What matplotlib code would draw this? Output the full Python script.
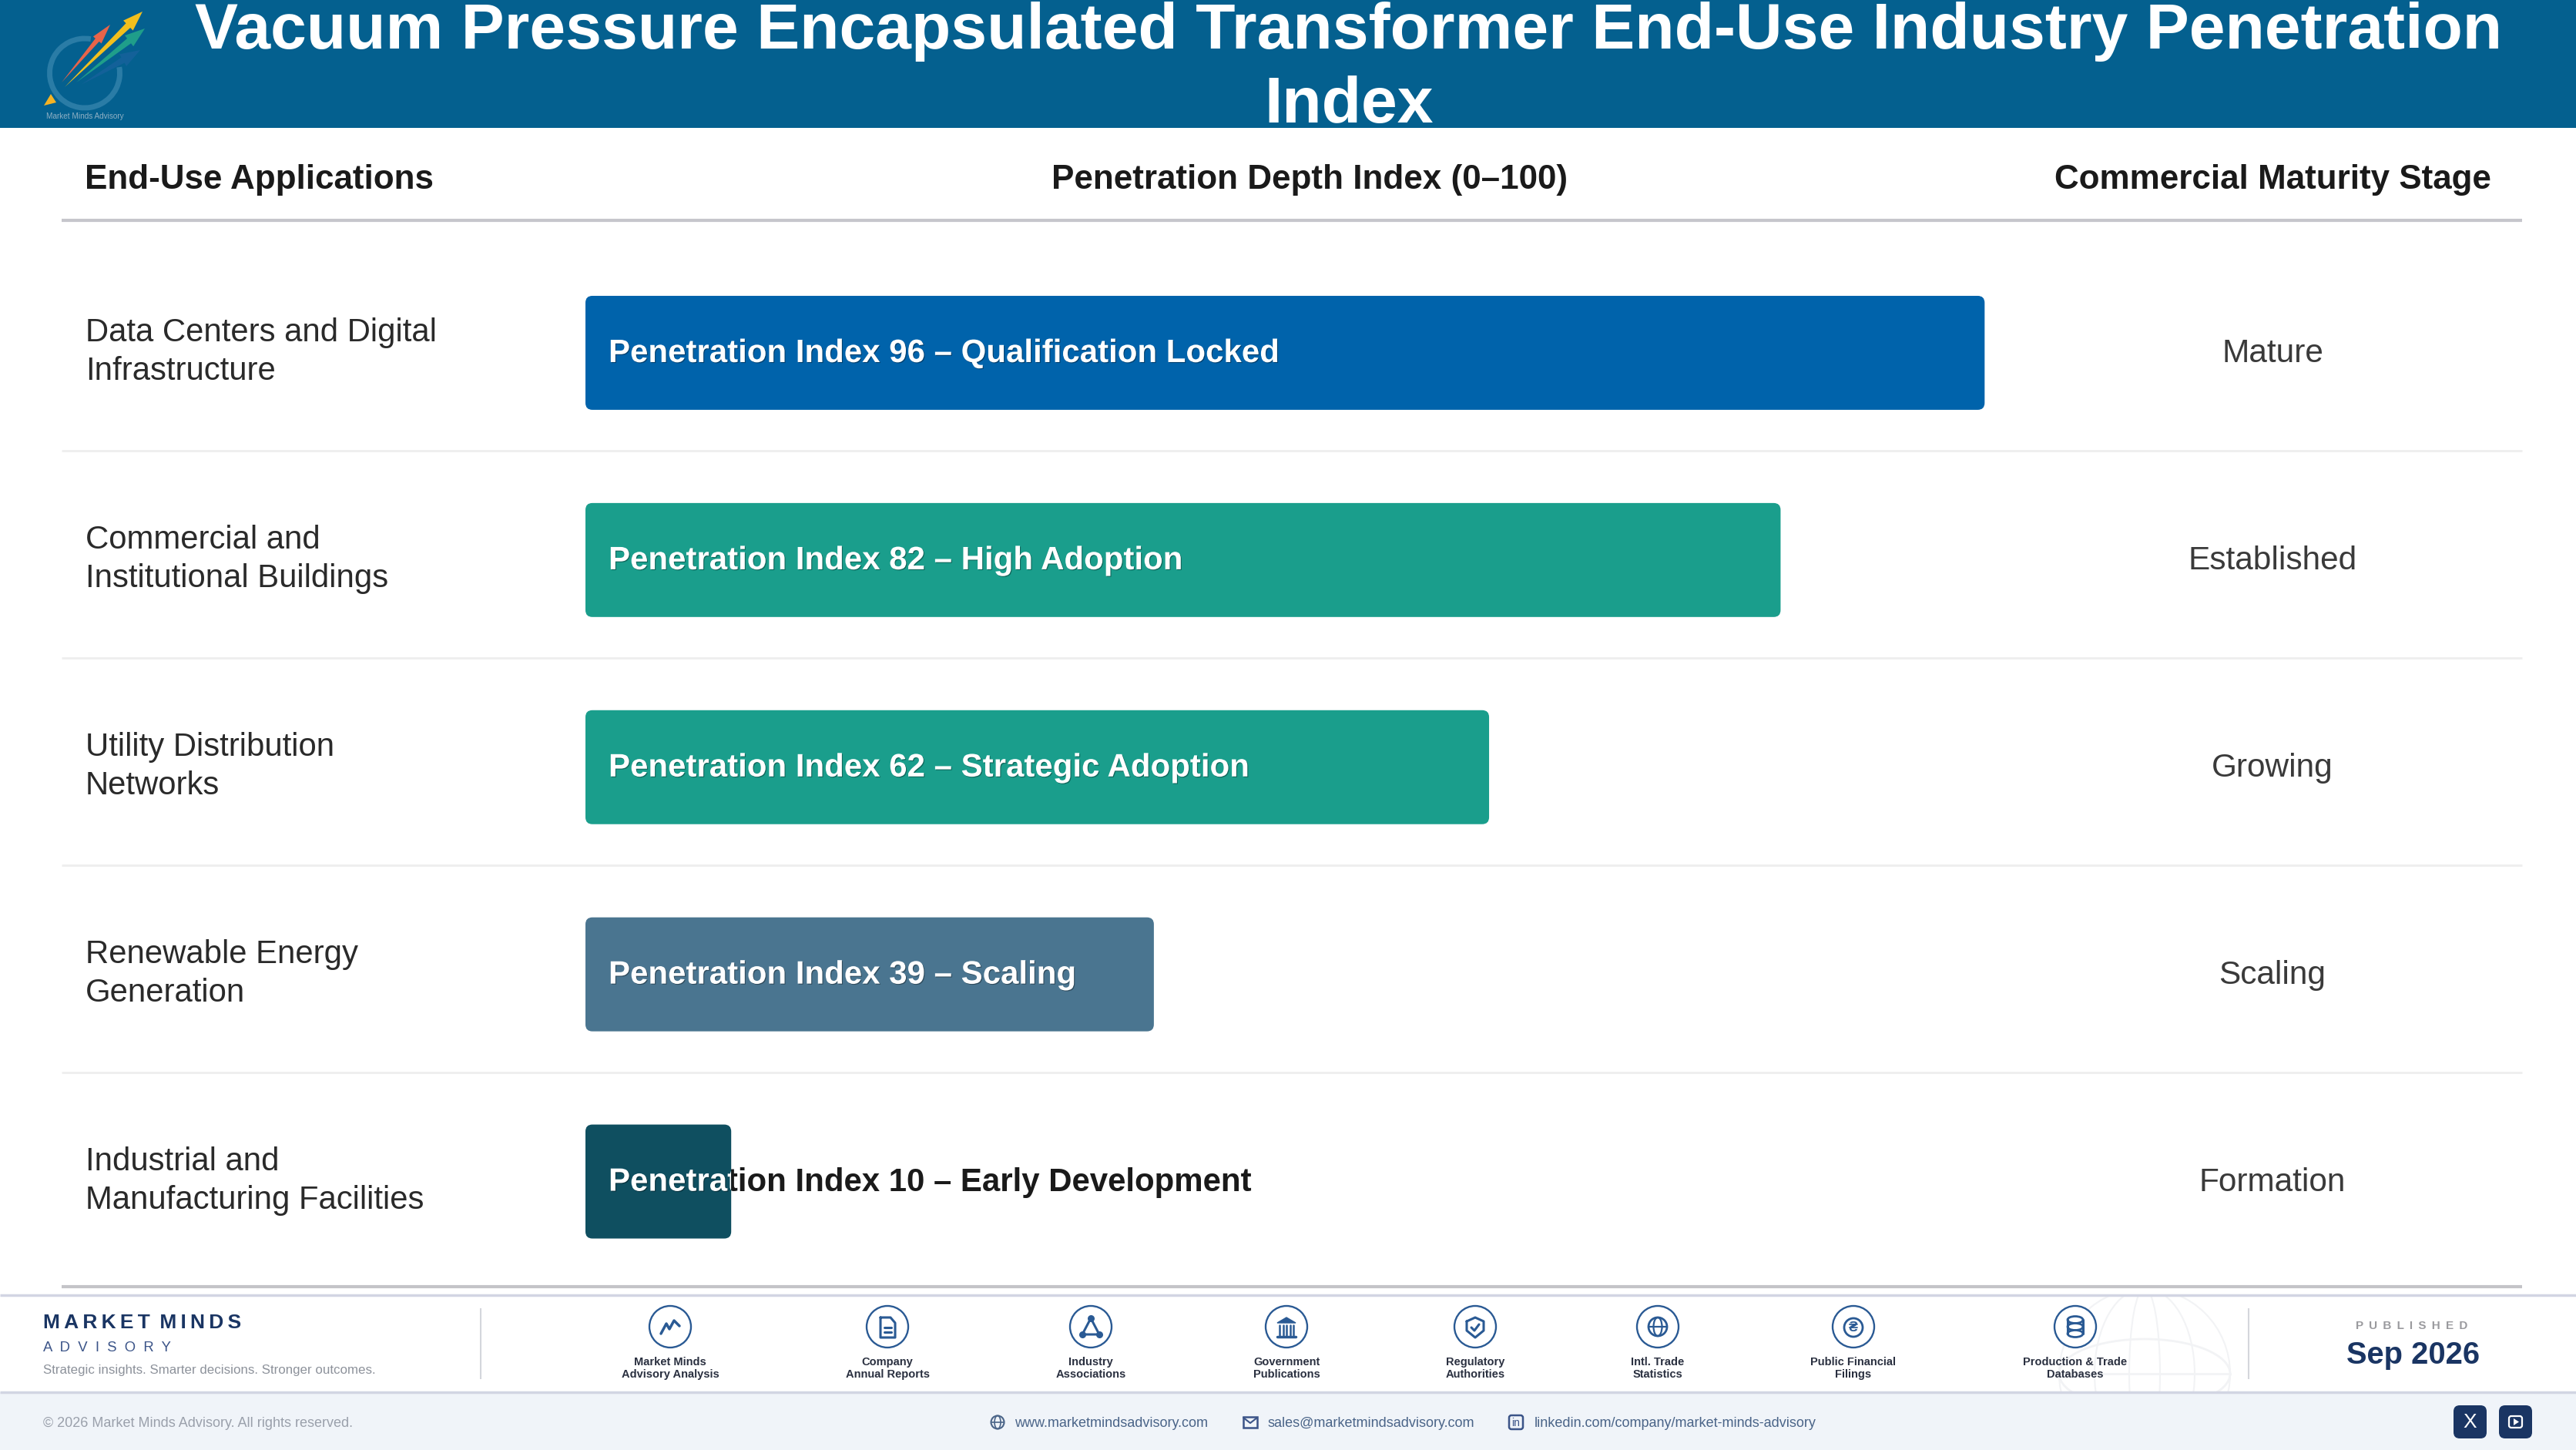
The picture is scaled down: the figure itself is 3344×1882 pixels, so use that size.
import numpy as np
import matplotlib
matplotlib.use("Agg")
import matplotlib.pyplot as plt
import matplotlib.patheffects as pe
from matplotlib.patches import Circle, Ellipse, Arc, Polygon, FancyBboxPatch, Rectangle

plt.rcParams['font.family'] = ['Liberation Sans', 'DejaVu Sans']

title_lines = ["Vacuum Pressure Encapsulated Transformer End-Use Industry Penetration", "Index"]
col_heads = ["End-Use Applications", "Penetration Depth Index (0\u2013100)", "Commercial Maturity Stage"]

applications = ["Data Centers and Digital\nInfrastructure",
                "Commercial and\nInstitutional Buildings",
                "Utility Distribution\nNetworks",
                "Renewable Energy\nGeneration",
                "Industrial and\nManufacturing Facilities"]
index_values = [96, 82, 62, 39, 10]
bar_notes = ["Qualification Locked", "High Adoption", "Strategic Adoption", "Scaling", "Early Development"]
stages = ["Mature", "Established", "Growing", "Scaling", "Formation"]
bar_colors = ["#0063ab", "#1a9e8c", "#1a9e8c", "#4a7590", "#0f4f60"]

source_labels = ["Market Minds\nAdvisory Analysis", "Company\nAnnual Reports", "Industry\nAssociations",
                 "Government\nPublications", "Regulatory\nAuthorities", "Intl. Trade\nStatistics",
                 "Public Financial\nFilings", "Production & Trade\nDatabases"]
source_x = [870, 1152, 1416, 1670, 1915, 2152, 2406, 2694]

NAVY = "#1a3563"
ICON = "#2a5a94"

fig = plt.figure(figsize=(33.44, 18.82), dpi=100)
bg = fig.add_axes([0, 0, 1, 1])
bg.set_xlim(0, 3344)
bg.set_ylim(1882, 0)
bg.axis('off')


def hline(y, x0, x1, color, lw):
    bg.plot([x0, x1], [y, y], color=color, lw=lw, solid_capstyle='butt', zorder=1)


def vline(x, y0, y1, color, lw):
    bg.plot([x, x], [y0, y1], color=color, lw=lw, solid_capstyle='butt', zorder=1)


def arrow(tail, tip, color, w, alpha=1.0):
    t = np.array(tail, float)
    p = np.array(tip, float)
    d = (p - t) / np.hypot(*(p - t))
    n = np.array([-d[1], d[0]])
    sh = p - d * 26
    pts = [t, sh + n * w * 0.45, sh + n * w, p, sh - n * w, sh - n * w * 0.45]
    bg.add_patch(Polygon(pts, closed=True, fc=color, ec='none', alpha=alpha, zorder=3))


# header band and logo
bg.add_patch(Rectangle((0, 0), 3344, 166, fc="#04608f", ec='none', zorder=0))
bg.add_patch(Arc((110, 95), 91, 90, theta1=-10, theta2=280, ec="#2a7ca6", lw=5, zorder=2))
arrow((105, 110), (182, 65), "#17629c", 9, 0.8)
arrow((99, 107), (188, 37), "#1f9e8a", 9)
arrow((80, 107), (143, 32), "#e8644a", 7)
arrow((84, 113), (185, 15), "#f2bf1d", 9)
bg.add_patch(Polygon([(57, 137), (73, 133), (66, 122)], closed=True, fc="#f5b324", ec='none', zorder=3))
bg.text(110, 151, "Market Minds Advisory", fontsize=7.2, color="#8fb0c4", ha='center', va='center', zorder=3)

bg.text(1751, 63, title_lines[0], fontsize=60.5, fontweight='bold', color='white', ha='center', va='baseline', zorder=4)
bg.text(1751, 159, title_lines[1], fontsize=60.5, fontweight='bold', color='white', ha='center', va='baseline', zorder=4)

# table header
bg.text(110, 233, col_heads[0], fontsize=31.7, fontweight='bold', color="#1a1a1a", va='center')
bg.text(1700, 233, col_heads[1], fontsize=31.7, fontweight='bold', color="#1a1a1a", ha='center', va='center')
bg.text(2950, 233, col_heads[2], fontsize=31.7, fontweight='bold', color="#1a1a1a", ha='center', va='center')
hline(286, 80, 3274, "#c6c6cc", 3)

# rows
row_y = [458 + 269 * i for i in range(5)]
for i in range(5):
    bg.text(111, row_y[i] - 1, applications[i], fontsize=30.2, color="#2a2a2a", va='center', linespacing=1.33)
    bg.text(2950, row_y[i] + 1, stages[i], fontsize=30.5, color="#3a3a3a", ha='center', va='center')
    if i < 4:
        hline(row_y[i] + 127, 80, 3274, "#eeeeee", 2)
hline(1670, 80, 3274, "#c4c4c8", 3)

# bars, 0-100 scale on their own axes
ax = fig.add_axes([760 / 3344, 1 - 1668 / 1882, (2652 - 760) / 3344, (1668 - 323.5) / 1882])
ax.set_xlim(0, 100)
ax.set_ylim(4.5, -0.5)
ax.axis('off')
ax.patch.set_alpha(0)
px_x = 1892 / 100
px_y = 269.0
corner = 9 / px_x
for i, v in enumerate(index_values):
    y0 = i - 148 / px_y / 2
    label = "Penetration Index %d \u2013 %s" % (v, bar_notes[i])
    ax.text(30 / px_x, i + 1 / px_y, label, fontsize=30.25, fontweight='bold', color="#1a1a1a", va='center', zorder=1)
    bar = FancyBboxPatch((0, y0), v, 148 / px_y, boxstyle="round,pad=0,rounding_size=%f" % corner,
                         mutation_aspect=(1 / px_y) / (1 / px_x), fc=bar_colors[i], ec='none', zorder=2)
    ax.add_patch(bar)
    t = ax.text(30 / px_x, i + 1 / px_y, label, fontsize=30.25, fontweight='bold', color="white", va='center', zorder=3)
    t.set_path_effects([pe.withSimplePatchShadow(offset=(0.8, -0.8), shadow_rgbFace='black', alpha=0.35)])
    t.set_clip_path(Rectangle((0, y0), v, 148 / px_y, transform=ax.transData))
    t.set_clip_on(True)

# footer
bg.add_patch(Rectangle((0, 1681), 3344, 126, fc="white", ec='none', zorder=0))
bg.add_patch(Rectangle((0, 1807), 3344, 75, fc="#f0f4f9", ec='none', zorder=0))
hline(1681, 0, 3344, "#d2d5e3", 2.5)
hline(1807, 0, 3344, "#d2d5e3", 2.5)
vline(624, 1698, 1790, "#d4d6dc", 1.5)
vline(2919, 1698, 1790, "#d4d6dc", 1.5)

# faint globe behind the last sources
clip = Rectangle((2600, 1682), 400, 124, transform=bg.transData)
for wd in [222, 130, 40]:
    e = Ellipse((2784, 1783), wd, 222, fc='none', ec="#f2f3f5", lw=1.5, zorder=0.5)
    bg.add_patch(e)
    e.set_clip_path(clip)
e = Ellipse((2784, 1783), 222, 90, fc='none', ec="#f2f3f5", lw=2, zorder=0.5)
bg.add_patch(e)
e.set_clip_path(clip)
bg.plot([2673, 2895], [1783, 1783], color="#f2f3f5", lw=2, zorder=0.5)

bg.text(56, 1717, "M\u2009A\u2009R\u2009K\u2009E\u2009T\u2009 M\u2009I\u2009N\u2009D\u2009S", fontsize=19, fontweight='bold', color=NAVY, va='center')
bg.text(56, 1750, "A  D  V  I  S  O  R  Y", fontsize=13.3, color="#3b5488", va='center')
bg.text(56, 1779, "Strategic insights. Smarter decisions. Stronger outcomes.", fontsize=12.2, color="#8d929b", va='center')

for x, lab in zip(source_x, source_labels):
    bg.add_patch(Circle((x, 1722), 27, fc='white', ec=ICON, lw=1.7, zorder=2))
    bg.text(x, 1776, lab, fontsize=10.5, fontweight='bold', color="#2a3040", ha='center', va='center', linespacing=1.15, zorder=3)


def icon_line(xs, ys, lw=2.2, color=ICON):
    bg.plot(xs, ys, color=color, lw=lw, zorder=3, solid_capstyle='round', solid_joinstyle='round')


# source icons
c = source_x[0]
icon_line([c - 12, c - 5, c - 1, c + 5, c + 12], [1731, 1718, 1725, 1714, 1721], 2.5)
c = source_x[1]
icon_line([c - 9, c + 4, c + 10, c + 10, c - 9, c - 9], [1710, 1710, 1717, 1736, 1736, 1710])
icon_line([c - 4, c + 5], [1723, 1723])
icon_line([c - 4, c + 5], [1729, 1729])
c = source_x[2]
icon_line([c, c - 11, c + 11, c], [1711, 1732, 1732, 1711])
bg.scatter([c, c - 11, c + 11], [1711, 1732, 1732], s=30, color=ICON, zorder=3)
c = source_x[3]
bg.add_patch(Polygon([(c - 12, 1717), (c, 1710), (c + 12, 1717)], closed=True, fc=ICON, ec=ICON, zorder=3))
for dx in [-9, -4.5, 0, 4.5, 9]:
    icon_line([c + dx, c + dx], [1720, 1733], 1.8)
icon_line([c - 12, c + 12], [1735, 1735], 2.5)
c = source_x[4]
icon_line([c - 11, c, c + 11, c + 11, c, c - 11, c - 11], [1715, 1710, 1715, 1727, 1736, 1727, 1715])
icon_line([c - 5, c - 1, c + 5], [1723, 1727, 1719])
c = source_x[5]
bg.add_patch(Circle((c, 1722), 12, fc='none', ec=ICON, lw=2, zorder=3))
bg.add_patch(Ellipse((c, 1722), 11, 24, fc='none', ec=ICON, lw=1.6, zorder=3))
icon_line([c - 12, c + 12], [1722, 1722], 1.6)
c = source_x[6]
bg.add_patch(Circle((c, 1723), 12, fc='none', ec=ICON, lw=2, zorder=3))
bg.text(c, 1723, "\u20b4", fontsize=13, fontweight='bold', color=ICON, ha='center', va='center', zorder=3)
c = source_x[7]
for yy in [1713, 1722, 1731]:
    bg.add_patch(Ellipse((c, yy), 20, 9, fc='white', ec=ICON, lw=2, zorder=3))
icon_line([c - 10, c - 10], [1713, 1731])
icon_line([c + 10, c + 10], [1713, 1731])

bg.text(3131, 1721, "P \u2009U \u2009B \u2009L \u2009I \u2009S \u2009H \u2009E \u2009D", fontsize=11, fontweight='bold', color="#9a9a9e", ha='center', va='center')
bg.text(3133, 1759, "Sep 2026", fontsize=28.7, fontweight='bold', color=NAVY, ha='center', va='center')

# bottom strip
bg.text(56, 1848, "\u00a9 2026 Market Minds Advisory. All rights reserved.", fontsize=13, color="#9aa0ab", va='center')
LINK = "#4a6488"
bg.text(1317, 1848, "www.marketmindsadvisory.com", fontsize=13, color=LINK, va='center')
bg.text(1646, 1848, "sales@marketmindsadvisory.com", fontsize=13, color=LINK, va='center')
bg.text(1992, 1848, "linkedin.com/company/market-minds-advisory", fontsize=13, color=LINK, va='center')

bg.add_patch(Circle((1295, 1846), 8.5, fc='none', ec=LINK, lw=1.5, zorder=3))
bg.add_patch(Ellipse((1295, 1846), 8, 17, fc='none', ec=LINK, lw=1.2, zorder=3))
icon_line([1287, 1303], [1846, 1846], 1.2, LINK)
bg.add_patch(Rectangle((1614, 1839), 18, 14, fc='none', ec="#3b5488", lw=1.8, zorder=3))
icon_line([1614, 1623, 1632], [1840, 1847, 1840], 1.5, "#3b5488")
bg.add_patch(FancyBboxPatch((1959, 1837), 18, 18, boxstyle="round,pad=0,rounding_size=3", fc='none', ec="#3b5488", lw=1.8, zorder=3))
bg.text(1968, 1847, "in", fontsize=10, color="#3b5488", ha='center', va='center', zorder=4)

for x0 in [3185, 3244]:
    bg.add_patch(FancyBboxPatch((x0, 1824), 43, 43, boxstyle="round,pad=0,rounding_size=8", fc=NAVY, ec='none', zorder=3))
bg.text(3206.5, 1846, "X", fontsize=19, color="white", ha='center', va='center', zorder=4)
bg.add_patch(FancyBboxPatch((3257, 1838), 17, 15, boxstyle="round,pad=0,rounding_size=3", fc='none', ec='white', lw=1.6, zorder=4))
bg.add_patch(Polygon([(3263, 1841), (3263, 1850), (3270, 1845.5)], closed=True, fc='white', ec='none', zorder=4))

fig.savefig("out.png", dpi=100)
